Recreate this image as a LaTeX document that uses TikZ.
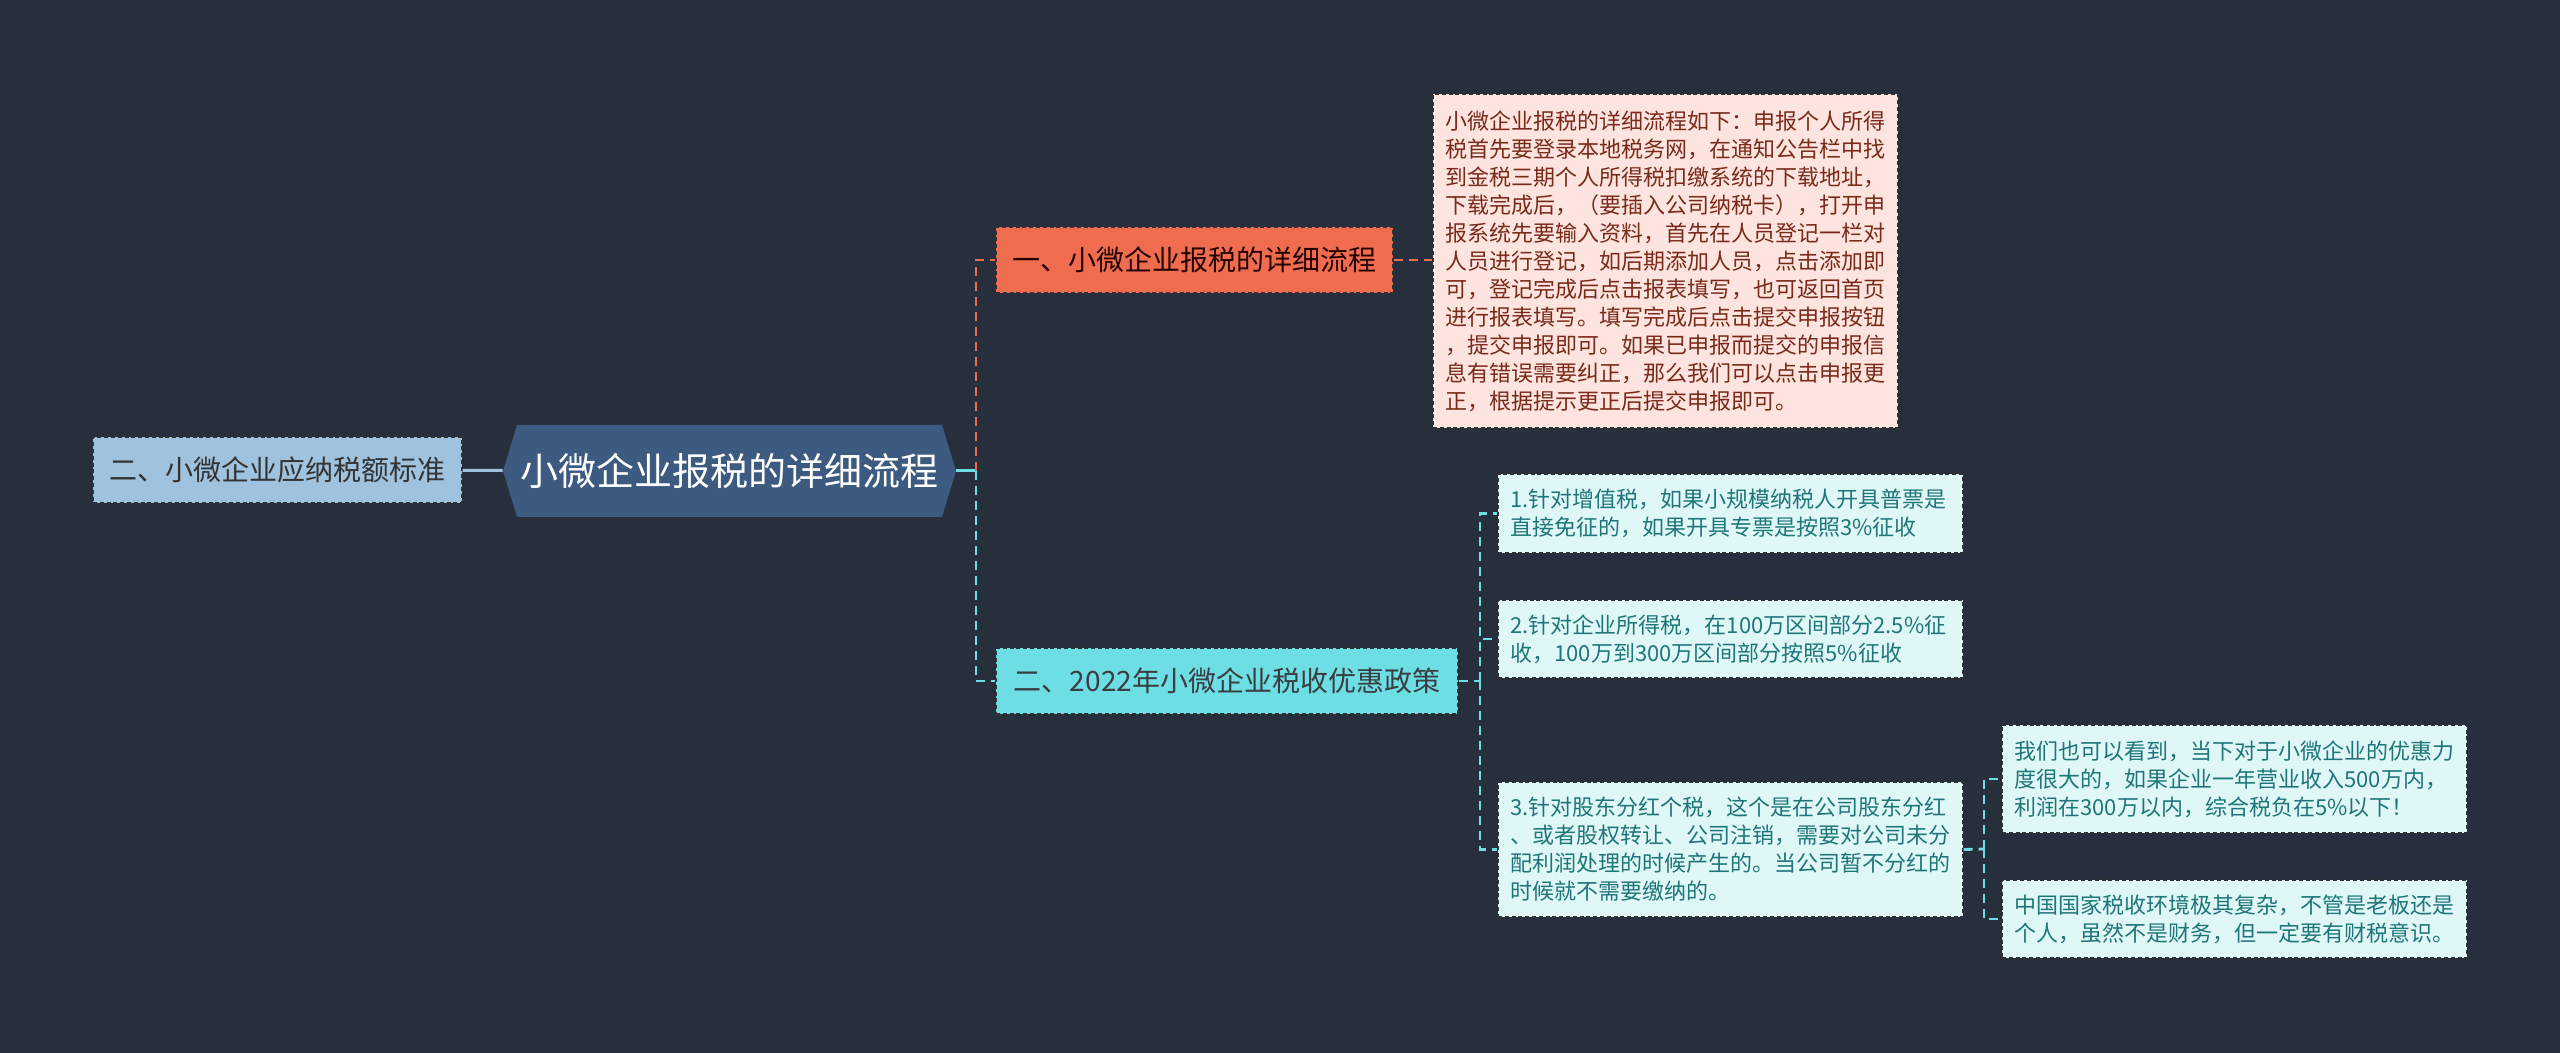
\documentclass[tikz,border=0pt]{standalone}
\usepackage{fontspec}
\newfontfamily\cjk{Noto Sans CJK SC}
\usepackage{tikz}
\definecolor{bg}{HTML}{282F3C}
\definecolor{rootfill}{HTML}{3D5A80}
\definecolor{leftfill}{HTML}{9FC3DE}
\definecolor{orangefill}{HTML}{EF6D4E}
\definecolor{cyanfill}{HTML}{6DDEE3}
\definecolor{pinkfill}{HTML}{FDE4DE}
\definecolor{notefill}{HTML}{E0F7F7}
\definecolor{edge}{HTML}{2E3034}
\definecolor{noteteal}{HTML}{1E7679}
\definecolor{notered}{HTML}{7A2A1A}

\begin{document}
\begin{tikzpicture}[x=0.5pt, y=-0.5pt,
  topic/.style={draw=edge, dash pattern=on 2pt off 1.4pt, line width=0.7pt,
                minimum height=33pt, inner xsep=7pt,
                font=\cjk\fontsize{14}{17}\selectfont},
  note/.style={draw=edge, dash pattern=on 2pt off 1.4pt, line width=0.7pt,
               fill=notefill, text=noteteal, text width=220pt, inner xsep=6.25pt,
               align=left, font=\cjk\fontsize{11}{14}\selectfont},
  link/.style={line width=1.4pt, dash pattern=on 4.5pt off 3pt}
]
\fill[bg] (0,0) rectangle (2560,1053);

\fill[rootfill] (503,471) -- (517,425) -- (942,425) -- (956,471) -- (942,517) -- (517,517) -- cycle;
\node[minimum width=226.5pt, minimum height=46pt, text=white,
      font=\cjk\fontsize{19}{23}\selectfont] (root) at (729.5,471) {小微企业报税的详细流程};

\node[topic, fill=leftfill, text=black!80, minimum width=184.5pt] (left) at (277.5,470)
  {二、小微企业应纳税额标准};
\node[topic, fill=orangefill, text=black!85!red, minimum width=198.5pt] (b1) at (1194.5,260)
  {一、小微企业报税的详细流程};
\node[topic, fill=cyanfill, text=black!85!cyan, minimum width=231pt] (b2) at (1227,681)
  {二、2022年小微企业税收优惠政策};

\node[note, fill=pinkfill, text=notered, minimum height=167pt] (d1) at (1665.5,261)
  {小微企业报税的详细流程如下：申报个人所得\\
   税首先要登录本地税务网，在通知公告栏中找\\
   到金税三期个人所得税扣缴系统的下载地址，\\
   下载完成后，（要插入公司纳税卡），打开申\\
   报系统先要输入资料，首先在人员登记一栏对\\
   人员进行登记，如后期添加人员，点击添加即\\
   可，登记完成后点击报表填写，也可返回首页\\
   进行报表填写。填写完成后点击提交申报按钮\\
   ，提交申报即可。如果已申报而提交的申报信\\
   息有错误需要纠正，那么我们可以点击申报更\\
   正，根据提示更正后提交申报即可。};

\node[note, minimum height=39.5pt] (c1) at (1730.5,513.5)
  {1.针对增值税，如果小规模纳税人开具普票是\\
   直接免征的，如果开具专票是按照3\%征收};
\node[note, minimum height=39pt] (c2) at (1730.5,639)
  {2.针对企业所得税，在100万区间部分2.5\%征\\
   收，100万到300万区间部分按照5\%征收};
\node[note, minimum height=67.5pt] (c3) at (1730.5,849.5)
  {3.针对股东分红个税，这个是在公司股东分红\\
   、或者股权转让、公司注销，需要对公司未分\\
   配利润处理的时候产生的。当公司暂不分红的\\
   时候就不需要缴纳的。};

\node[note, minimum height=54pt] (g1) at (2234.5,779)
  {我们也可以看到，当下对于小微企业的优惠力\\
   度很大的，如果企业一年营业收入500万内，\\
   利润在300万以内，综合税负在5\%以下！};
\node[note, minimum height=39pt] (g2) at (2234.5,919)
  {中国国家税收环境极其复杂，不管是老板还是\\
   个人，虽然不是财务，但一定要有财税意识。};

\coordinate (rs) at (976,471);
\coordinate (cs) at (1480,681);
\coordinate (gs) at (1984,849);

\draw[leftfill, line width=1.5pt] (left) -- (root);
\draw[cyanfill, line width=1.5pt] (root.east) -- (rs);
\draw[link, orangefill] (rs) |- (b1.west);
\draw[link, cyanfill] (rs) |- (b2.west);
\draw[link, orangefill] (b1.east) -- (b1.east -| d1.west);
\draw[link, cyanfill] (b2.east) -- (cs);
\draw[link, cyanfill] (cs) |- (c1.west);
\draw[link, cyanfill] (cs) |- (c2.west);
\draw[link, cyanfill] (cs) |- (c3.west);
\draw[link, cyanfill] (c3.east) -- (gs);
\draw[link, cyanfill] (gs) |- (g1.west);
\draw[link, cyanfill] (gs) |- (g2.west);
\end{tikzpicture}
\end{document}
